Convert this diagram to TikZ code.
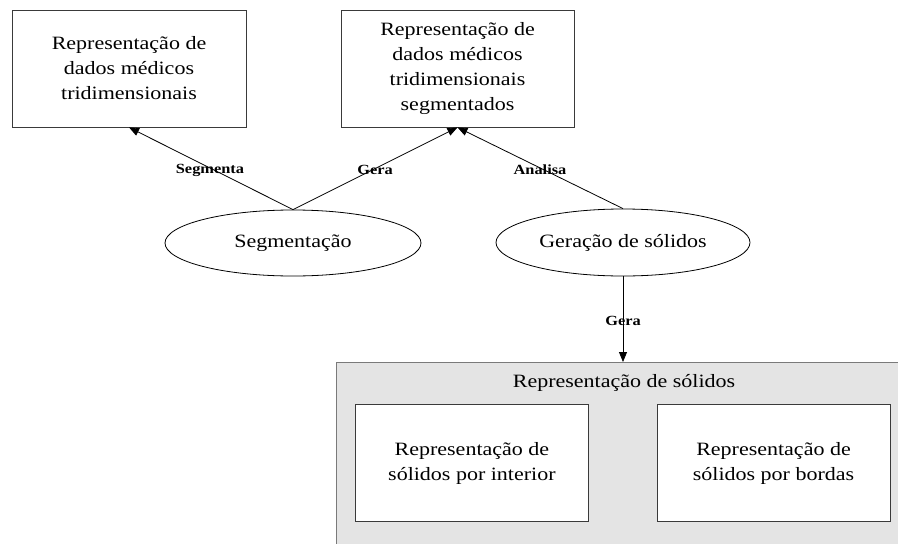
\documentclass[tikz,border=0pt]{standalone}
\usepackage{fontspec}
\setmainfont{Liberation Serif}[FakeStretch=1.17]
\usetikzlibrary{arrows.meta,shapes.geometric}
\definecolor{panelgray}{HTML}{E4E4E4}
\definecolor{paneledge}{HTML}{7A7A7A}
\definecolor{boxedge}{HTML}{3A3A3A}
\tikzset{
  txt/.style={font=\fontsize{18.8}{25}\selectfont, align=center, text=black},
  box/.style={txt, draw=boxedge, line width=0.8pt, fill=white, rectangle, inner sep=0pt},
  oval/.style={txt, draw=black, line width=0.8pt, fill=white, ellipse, inner sep=0pt},
  lbl/.style={font=\fontsize{14}{16}\selectfont\bfseries, text=black, inner sep=0pt},
  conn/.style={draw=black, line width=0.8pt, -{Triangle[length=10pt,width=8pt]}},
}
\begin{document}
\begin{tikzpicture}[x=1pt,y=-1pt]
\useasboundingbox (0,0) rectangle (898,544);
\clip (0,0) rectangle (898,544);
% top boxes
\node[box, minimum width=234pt, minimum height=117pt] (raw) at (129,68.5)
  {Representação de\\dados médicos\\tridimensionais};
\node[box, minimum width=233pt, minimum height=117pt] (seg3d) at (457.5,68.5)
  {Representação de\\dados médicos\\tridimensionais\\segmentados};
% ellipses
\node[oval, minimum width=256pt, minimum height=66pt] (segm) at (293,243) {Segmentação};
\node[oval, minimum width=254pt, minimum height=67pt] (gen) at (623,242.5) {Geração de sólidos};
% solids panel
\node[draw=paneledge, line width=1.2pt, fill=panelgray, rectangle, inner sep=0pt,
      minimum width=590pt, minimum height=210pt, anchor=north west] (solids) at (336,362) {};
\node[txt] (soltitle) at (624,383) {Representação de sólidos};
\node[box, minimum width=233.7pt, minimum height=117.7pt] (interior) at (471.9,463)
  {Representação de\\sólidos por interior};
\node[box, minimum width=233pt, minimum height=117.7pt] (bordas) at (773.5,463)
  {Representação de\\sólidos por bordas};
% connectors
\draw[conn] (segm.north) -- (raw.south);
\draw[conn] (segm.north) -- (seg3d.south);
\draw[conn] (gen.north) -- (seg3d.south);
\coordinate (gentop) at (gen.south -| 622,0);
\draw[conn] (gen.south) -- (gen.south |- solids.north);
% labels
\node[lbl] (l1) at (210,170) {Segmenta};
\node[lbl] (l2) at (375,170) {Gera};
\node[lbl] (l3) at (540,170) {Analisa};
\node[lbl] (l4) at (623,321) {Gera};
\end{tikzpicture}
\end{document}
